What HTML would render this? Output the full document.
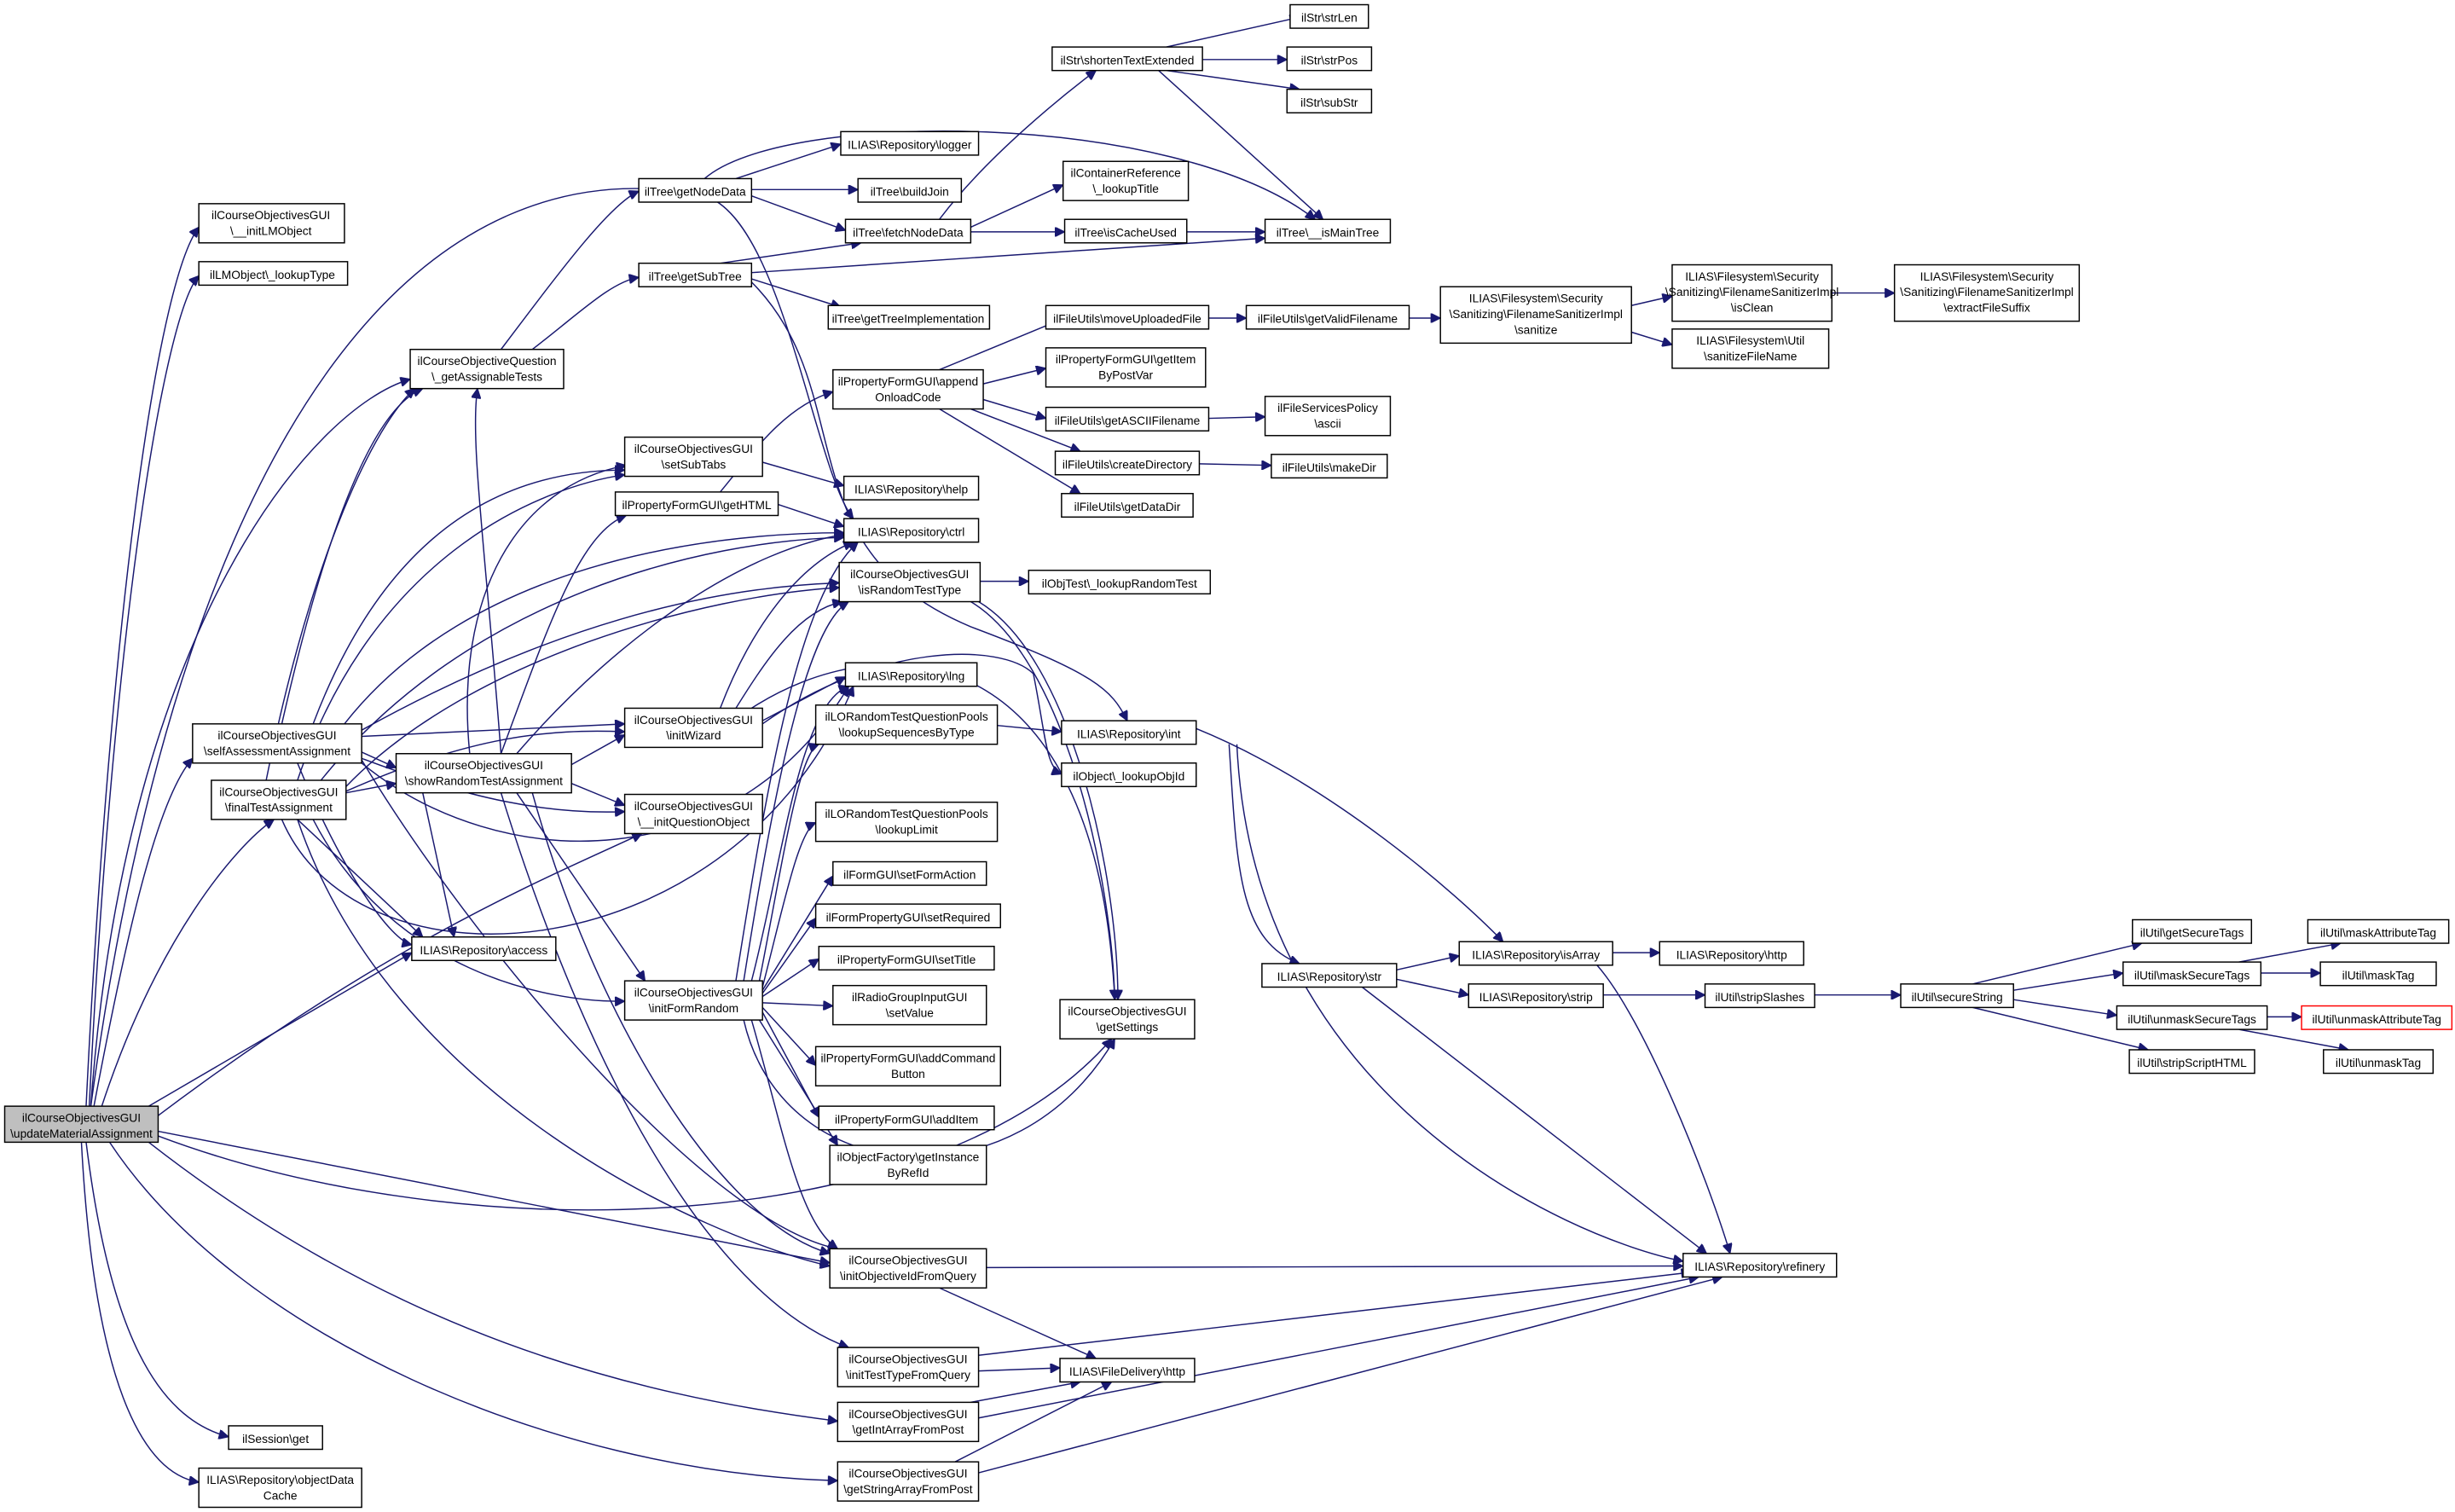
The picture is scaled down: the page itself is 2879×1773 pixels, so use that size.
<!DOCTYPE html>
<html><head><meta charset="utf-8"><style>
html,body{margin:0;padding:0;background:#fff;}
svg{display:block;}
text{font-family:"Liberation Sans",sans-serif;font-size:7.5px;fill:#000;text-anchor:middle;}
.n{fill:#fff;stroke:#000;stroke-width:0.8;}
.e{fill:none;stroke:#191970;stroke-width:0.8;marker-end:url(#a);}
</style></head><body>
<svg width="2879" height="1773" viewBox="0 0 1568 965" preserveAspectRatio="none" xmlns="http://www.w3.org/2000/svg">
<defs><marker id="a" viewBox="0 0 10 10" refX="10" refY="5" markerWidth="8" markerHeight="6" markerUnits="userSpaceOnUse" orient="auto"><path d="M0,0 L10,5 L0,10 z" fill="#191970" stroke="#191970"/></marker></defs>
<rect width="1568" height="965" fill="#fff"/>
<g>
<path class="e" d="M55,706 C70,400 100,180 127,145"/>
<path class="e" d="M57,706 C72,400 105,200 127,176"/>
<path class="e" d="M60,706 C80,600 100,510 123,484"/>
<path class="e" d="M65,706 C100,600 150,540 175,523"/>
<path class="e" d="M95,706 L263,608"/>
<path class="e" d="M58,706 C80,400 200,260 262,242"/>
<path class="e" d="M58,706 C120,250 280,90 450,125 C500,140 520,300 545,331"/>
<path class="e" d="M101,712 C250,600 350,560 410,532"/>
<path class="e" d="M101,722 L530,806"/>
<path class="e" d="M101,725 C300,800 600,790 710,663"/>
<path class="e" d="M95,729 C250,850 400,890 535,907"/>
<path class="e" d="M70,729 C150,850 350,940 535,945"/>
<path class="e" d="M55,729 C70,850 100,905 146,917"/>
<path class="e" d="M52,729 C60,880 90,940 127,946"/>
<path class="e" d="M180,462 C210,330 240,260 270,248"/>
<path class="e" d="M200,462 C250,330 330,300 399,300"/>
<path class="e" d="M220,462 C300,360 450,340 539,340"/>
<path class="e" d="M231,466 C350,400 450,375 536,372"/>
<path class="e" d="M231,470 L399,462"/>
<path class="e" d="M231,480 L253,490"/>
<path class="e" d="M190,487 C220,560 250,600 263,603"/>
<path class="e" d="M231,485 C300,600 450,780 535,797"/>
<path class="e" d="M231,484 C300,510 350,520 399,518"/>
<path class="e" d="M231,487 C320,560 470,560 542,438"/>
<path class="e" d="M170,498 C200,350 240,270 265,248"/>
<path class="e" d="M190,498 C240,350 350,310 399,303"/>
<path class="e" d="M205,498 C300,380 450,345 539,343"/>
<path class="e" d="M221,502 C300,420 450,380 536,375"/>
<path class="e" d="M221,505 C300,470 350,465 399,467"/>
<path class="e" d="M221,506 L253,500"/>
<path class="e" d="M190,523 L270,598"/>
<path class="e" d="M200,523 C250,620 350,640 399,639"/>
<path class="e" d="M190,523 C250,700 450,790 530,808"/>
<path class="e" d="M180,523 C230,640 470,620 545,438"/>
<path class="e" d="M320,481 C310,350 300,280 305,248"/>
<path class="e" d="M320,481 C350,400 370,340 400,329"/>
<path class="e" d="M300,481 C290,380 330,310 400,297"/>
<path class="e" d="M330,481 C400,400 480,350 540,341"/>
<path class="e" d="M365,488 L399,469"/>
<path class="e" d="M365,500 L399,514"/>
<path class="e" d="M330,506 L412,626"/>
<path class="e" d="M270,506 L290,598"/>
<path class="e" d="M340,506 C380,650 460,780 530,800"/>
<path class="e" d="M320,506 C380,700 460,830 542,860"/>
<path class="e" d="M320,223 C360,170 390,130 408,122"/>
<path class="e" d="M340,223 C370,200 390,180 408,177"/>
<path class="e" d="M460,314 C480,290 500,260 532,250"/>
<path class="e" d="M497,322 L539,336"/>
<path class="e" d="M487,295 L539,310"/>
<path class="e" d="M460,452 C480,400 510,360 545,346"/>
<path class="e" d="M470,452 C490,420 510,390 538,384"/>
<path class="e" d="M487,460 L540,432"/>
<path class="e" d="M480,452 C560,400 700,400 712,638"/>
<path class="e" d="M487,462 C560,410 640,410 660,430 C668,470 668,490 678,494"/>
<path class="e" d="M470,626 C490,500 510,380 548,346"/>
<path class="e" d="M475,626 C495,500 515,400 542,384"/>
<path class="e" d="M480,626 C500,550 510,450 542,438"/>
<path class="e" d="M485,626 C500,550 510,480 523,475"/>
<path class="e" d="M487,630 C500,580 510,530 521,525"/>
<path class="e" d="M487,632 L532,559"/>
<path class="e" d="M487,634 L521,586"/>
<path class="e" d="M487,636 L523,612"/>
<path class="e" d="M487,640 L532,642"/>
<path class="e" d="M487,643 L521,680"/>
<path class="e" d="M487,646 L523,713"/>
<path class="e" d="M485,651 L535,731"/>
<path class="e" d="M480,651 C500,720 510,780 535,797"/>
<path class="e" d="M475,651 C500,760 650,770 712,663"/>
<path class="e" d="M470,114 L537,92"/>
<path class="e" d="M480,121 L548,121"/>
<path class="e" d="M480,125 L540,147"/>
<path class="e" d="M450,114 C500,70 750,70 840,140"/>
<path class="e" d="M460,168 L550,155"/>
<path class="e" d="M480,178 L537,196"/>
<path class="e" d="M480,174 L808,152"/>
<path class="e" d="M480,180 C550,250 500,350 620,400 C700,430 710,440 720,460"/>
<path class="e" d="M600,140 C630,100 680,60 700,45"/>
<path class="e" d="M620,145 L679,118"/>
<path class="e" d="M620,148 L680,148"/>
<path class="e" d="M758,148 L808,148"/>
<path class="e" d="M745,30 L830,11"/>
<path class="e" d="M768,38 L822,38"/>
<path class="e" d="M745,45 L830,57"/>
<path class="e" d="M740,45 L845,140"/>
<path class="e" d="M600,236 L680,203"/>
<path class="e" d="M628,245 L668,235"/>
<path class="e" d="M628,255 L668,267"/>
<path class="e" d="M620,261 L690,288"/>
<path class="e" d="M600,261 L690,315"/>
<path class="e" d="M772,203 L796,203"/>
<path class="e" d="M900,203 L920,203"/>
<path class="e" d="M1042,195 L1068,189"/>
<path class="e" d="M1042,212 L1068,220"/>
<path class="e" d="M1170,187 L1210,187"/>
<path class="e" d="M772,267 L808,266"/>
<path class="e" d="M766,296 L812,297"/>
<path class="e" d="M626,371 L657,371"/>
<path class="e" d="M620,384 C680,420 710,560 712,638"/>
<path class="e" d="M625,384 C685,420 714,560 714,638"/>
<path class="e" d="M637,463 L678,467"/>
<path class="e" d="M764,465 C850,500 930,570 960,601"/>
<path class="e" d="M785,475 C790,550 790,600 830,615"/>
<path class="e" d="M790,475 C800,700 1000,790 1075,805"/>
<path class="e" d="M892,619 L932,610"/>
<path class="e" d="M892,625 L938,635"/>
<path class="e" d="M870,630 L1090,800"/>
<path class="e" d="M1030,608 L1060,608"/>
<path class="e" d="M1020,616 C1050,650 1090,750 1105,800"/>
<path class="e" d="M1024,635 L1089,635"/>
<path class="e" d="M1159,635 L1214,635"/>
<path class="e" d="M1260,628 L1368,602"/>
<path class="e" d="M1286,632 L1356,621"/>
<path class="e" d="M1286,638 L1352,648"/>
<path class="e" d="M1260,643 L1372,670"/>
<path class="e" d="M1430,614 L1495,602"/>
<path class="e" d="M1444,621 L1482,621"/>
<path class="e" d="M1448,649 L1470,649"/>
<path class="e" d="M1430,657 L1500,670"/>
<path class="e" d="M630,809 L1075,808"/>
<path class="e" d="M600,822 L700,867"/>
<path class="e" d="M625,865 L1080,812"/>
<path class="e" d="M625,875 L677,873"/>
<path class="e" d="M620,895 L690,882"/>
<path class="e" d="M625,905 L1085,815"/>
<path class="e" d="M610,933 L710,882"/>
<path class="e" d="M625,940 L1100,815"/>
</g>
<g>
<rect x="3" y="706" width="98" height="23" fill="#bfbfbf" stroke="#000" stroke-width="0.8"/><text x="52" y="716">ilCourseObjectivesGUI</text><text x="52" y="726">\updateMaterialAssignment</text>
<rect class="n" x="127" y="130" width="93" height="25"/><text x="173" y="140">ilCourseObjectivesGUI</text><text x="173" y="150">\__initLMObject</text>
<rect class="n" x="127" y="167" width="95" height="15"/><text x="174" y="178">ilLMObject\_lookupType</text>
<rect class="n" x="123" y="462" width="108" height="25"/><text x="177" y="472">ilCourseObjectivesGUI</text><text x="177" y="482">\selfAssessmentAssignment</text>
<rect class="n" x="135" y="498" width="86" height="25"/><text x="178" y="508">ilCourseObjectivesGUI</text><text x="178" y="518">\finalTestAssignment</text>
<rect class="n" x="263" y="598" width="92" height="15"/><text x="309" y="609">ILIAS\Repository\access</text>
<rect class="n" x="146" y="910" width="60" height="15"/><text x="176" y="921">ilSession\get</text>
<rect class="n" x="127" y="937" width="104" height="25"/><text x="179" y="947">ILIAS\Repository\objectData</text><text x="179" y="957">Cache</text>
<rect class="n" x="262" y="223" width="98" height="25"/><text x="311" y="233">ilCourseObjectiveQuestion</text><text x="311" y="243">\_getAssignableTests</text>
<rect class="n" x="253" y="481" width="112" height="25"/><text x="309" y="491">ilCourseObjectivesGUI</text><text x="309" y="501">\showRandomTestAssignment</text>
<rect class="n" x="393" y="314" width="104" height="15"/><text x="445" y="325">ilPropertyFormGUI\getHTML</text>
<rect class="n" x="399" y="279" width="88" height="25"/><text x="443" y="289">ilCourseObjectivesGUI</text><text x="443" y="299">\setSubTabs</text>
<rect class="n" x="399" y="452" width="88" height="25"/><text x="443" y="462">ilCourseObjectivesGUI</text><text x="443" y="472">\initWizard</text>
<rect class="n" x="399" y="507" width="88" height="25"/><text x="443" y="517">ilCourseObjectivesGUI</text><text x="443" y="527">\__initQuestionObject</text>
<rect class="n" x="399" y="626" width="88" height="25"/><text x="443" y="636">ilCourseObjectivesGUI</text><text x="443" y="646">\initFormRandom</text>
<rect class="n" x="408" y="114" width="72" height="15"/><text x="444" y="125">ilTree\getNodeData</text>
<rect class="n" x="408" y="168" width="72" height="15"/><text x="444" y="179">ilTree\getSubTree</text>
<rect class="n" x="537" y="84" width="88" height="15"/><text x="581" y="95">ILIAS\Repository\logger</text>
<rect class="n" x="548" y="114" width="66" height="15"/><text x="581" y="125">ilTree\buildJoin</text>
<rect class="n" x="540" y="140" width="80" height="15"/><text x="580" y="151">ilTree\fetchNodeData</text>
<rect class="n" x="529" y="195" width="103" height="15"/><text x="580" y="206">ilTree\getTreeImplementation</text>
<rect class="n" x="532" y="236" width="96" height="25"/><text x="580" y="246">ilPropertyFormGUI\append</text><text x="580" y="256">OnloadCode</text>
<rect class="n" x="539" y="304" width="86" height="15"/><text x="582" y="315">ILIAS\Repository\help</text>
<rect class="n" x="539" y="331" width="86" height="15"/><text x="582" y="342">ILIAS\Repository\ctrl</text>
<rect class="n" x="536" y="359" width="90" height="25"/><text x="581" y="369">ilCourseObjectivesGUI</text><text x="581" y="379">\isRandomTestType</text>
<rect class="n" x="540" y="423" width="84" height="15"/><text x="582" y="434">ILIAS\Repository\lng</text>
<rect class="n" x="521" y="450" width="116" height="25"/><text x="579" y="460">ilLORandomTestQuestionPools</text><text x="579" y="470">\lookupSequencesByType</text>
<rect class="n" x="521" y="512" width="116" height="25"/><text x="579" y="522">ilLORandomTestQuestionPools</text><text x="579" y="532">\lookupLimit</text>
<rect class="n" x="532" y="550" width="98" height="15"/><text x="581" y="561">ilFormGUI\setFormAction</text>
<rect class="n" x="521" y="577" width="118" height="15"/><text x="580" y="588">ilFormPropertyGUI\setRequired</text>
<rect class="n" x="523" y="604" width="112" height="15"/><text x="579" y="615">ilPropertyFormGUI\setTitle</text>
<rect class="n" x="532" y="629" width="98" height="25"/><text x="581" y="639">ilRadioGroupInputGUI</text><text x="581" y="649">\setValue</text>
<rect class="n" x="521" y="668" width="118" height="25"/><text x="580" y="678">ilPropertyFormGUI\addCommand</text><text x="580" y="688">Button</text>
<rect class="n" x="523" y="706" width="112" height="15"/><text x="579" y="717">ilPropertyFormGUI\addItem</text>
<rect class="n" x="530" y="731" width="100" height="25"/><text x="580" y="741">ilObjectFactory\getInstance</text><text x="580" y="751">ByRefId</text>
<rect class="n" x="530" y="797" width="100" height="25"/><text x="580" y="807">ilCourseObjectivesGUI</text><text x="580" y="817">\initObjectiveIdFromQuery</text>
<rect class="n" x="535" y="860" width="90" height="25"/><text x="580" y="870">ilCourseObjectivesGUI</text><text x="580" y="880">\initTestTypeFromQuery</text>
<rect class="n" x="535" y="895" width="90" height="25"/><text x="580" y="905">ilCourseObjectivesGUI</text><text x="580" y="915">\getIntArrayFromPost</text>
<rect class="n" x="535" y="933" width="90" height="25"/><text x="580" y="943">ilCourseObjectivesGUI</text><text x="580" y="953">\getStringArrayFromPost</text>
<rect class="n" x="672" y="30" width="96" height="15"/><text x="720" y="41">ilStr\shortenTextExtended</text>
<rect class="n" x="679" y="103" width="80" height="25"/><text x="719" y="113">ilContainerReference</text><text x="719" y="123">\_lookupTitle</text>
<rect class="n" x="680" y="140" width="78" height="15"/><text x="719" y="151">ilTree\isCacheUsed</text>
<rect class="n" x="668" y="195" width="104" height="15"/><text x="720" y="206">ilFileUtils\moveUploadedFile</text>
<rect class="n" x="668" y="222" width="102" height="25"/><text x="719" y="232">ilPropertyFormGUI\getItem</text><text x="719" y="242">ByPostVar</text>
<rect class="n" x="668" y="260" width="104" height="15"/><text x="720" y="271">ilFileUtils\getASCIIFilename</text>
<rect class="n" x="674" y="288" width="92" height="15"/><text x="720" y="299">ilFileUtils\createDirectory</text>
<rect class="n" x="678" y="315" width="84" height="15"/><text x="720" y="326">ilFileUtils\getDataDir</text>
<rect class="n" x="657" y="364" width="116" height="15"/><text x="715" y="375">ilObjTest\_lookupRandomTest</text>
<rect class="n" x="678" y="460" width="86" height="15"/><text x="721" y="471">ILIAS\Repository\int</text>
<rect class="n" x="678" y="487" width="86" height="15"/><text x="721" y="498">ilObject\_lookupObjId</text>
<rect class="n" x="677" y="638" width="86" height="25"/><text x="720" y="648">ilCourseObjectivesGUI</text><text x="720" y="658">\getSettings</text>
<rect class="n" x="677" y="867" width="86" height="15"/><text x="720" y="878">ILIAS\FileDelivery\http</text>
<rect class="n" x="824" y="3" width="50" height="15"/><text x="849" y="14">ilStr\strLen</text>
<rect class="n" x="822" y="30" width="54" height="15"/><text x="849" y="41">ilStr\strPos</text>
<rect class="n" x="822" y="57" width="54" height="15"/><text x="849" y="68">ilStr\subStr</text>
<rect class="n" x="808" y="140" width="80" height="15"/><text x="848" y="151">ilTree\__isMainTree</text>
<rect class="n" x="796" y="195" width="104" height="15"/><text x="848" y="206">ilFileUtils\getValidFilename</text>
<rect class="n" x="808" y="253" width="80" height="25"/><text x="848" y="263">ilFileServicesPolicy</text><text x="848" y="273">\ascii</text>
<rect class="n" x="812" y="290" width="74" height="15"/><text x="849" y="301">ilFileUtils\makeDir</text>
<rect class="n" x="806" y="615" width="86" height="15"/><text x="849" y="626">ILIAS\Repository\str</text>
<rect class="n" x="920" y="183" width="122" height="36"/><text x="981" y="193">ILIAS\Filesystem\Security</text><text x="981" y="203">\Sanitizing\FilenameSanitizerImpl</text><text x="981" y="213">\sanitize</text>
<rect class="n" x="1068" y="169" width="102" height="36"/><text x="1119" y="179">ILIAS\Filesystem\Security</text><text x="1119" y="189">\Sanitizing\FilenameSanitizerImpl</text><text x="1119" y="199">\isClean</text>
<rect class="n" x="1068" y="210" width="100" height="25"/><text x="1118" y="220">ILIAS\Filesystem\Util</text><text x="1118" y="230">\sanitizeFileName</text>
<rect class="n" x="1210" y="169" width="118" height="36"/><text x="1269" y="179">ILIAS\Filesystem\Security</text><text x="1269" y="189">\Sanitizing\FilenameSanitizerImpl</text><text x="1269" y="199">\extractFileSuffix</text>
<rect class="n" x="932" y="601" width="98" height="15"/><text x="981" y="612">ILIAS\Repository\isArray</text>
<rect class="n" x="938" y="628" width="86" height="15"/><text x="981" y="639">ILIAS\Repository\strip</text>
<rect class="n" x="1060" y="601" width="92" height="15"/><text x="1106" y="612">ILIAS\Repository\http</text>
<rect class="n" x="1089" y="628" width="70" height="15"/><text x="1124" y="639">ilUtil\stripSlashes</text>
<rect class="n" x="1075" y="800" width="98" height="15"/><text x="1124" y="811">ILIAS\Repository\refinery</text>
<rect class="n" x="1214" y="628" width="72" height="15"/><text x="1250" y="639">ilUtil\secureString</text>
<rect class="n" x="1362" y="587" width="76" height="15"/><text x="1400" y="598">ilUtil\getSecureTags</text>
<rect class="n" x="1356" y="614" width="88" height="15"/><text x="1400" y="625">ilUtil\maskSecureTags</text>
<rect class="n" x="1352" y="642" width="96" height="15"/><text x="1400" y="653">ilUtil\unmaskSecureTags</text>
<rect class="n" x="1360" y="670" width="80" height="15"/><text x="1400" y="681">ilUtil\stripScriptHTML</text>
<rect class="n" x="1474" y="587" width="90" height="15"/><text x="1519" y="598">ilUtil\maskAttributeTag</text>
<rect class="n" x="1482" y="614" width="74" height="15"/><text x="1519" y="625">ilUtil\maskTag</text>
<rect x="1470" y="642" width="96" height="15" fill="#fff" stroke="#ff0000" stroke-width="0.8"/><text x="1518" y="653">ilUtil\unmaskAttributeTag</text>
<rect class="n" x="1484" y="670" width="70" height="15"/><text x="1519" y="681">ilUtil\unmaskTag</text>
</g>
</svg>
</body></html>
